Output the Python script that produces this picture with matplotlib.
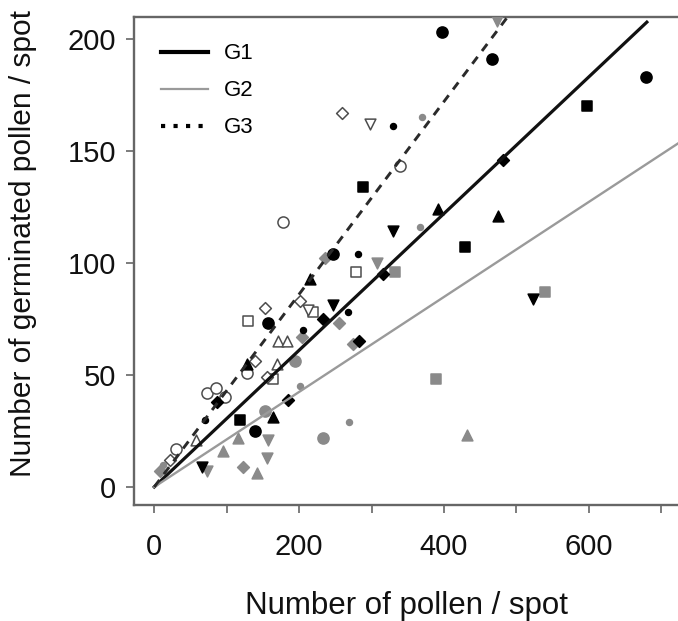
import numpy as np
import matplotlib
matplotlib.use("Agg")
import matplotlib.pyplot as plt
from matplotlib.lines import Line2D

plt.rcParams["font.family"] = ["Liberation Sans", "DejaVu Sans"]

# shape codes: o circle, s square, ^ up, v down, D diamond, . small dot
g1_x = [397, 466, 679, 157, 139, 247,
        288, 597, 429, 119,
        392, 474, 215, 128, 164,
        330, 523, 247, 66,
        482, 316, 283, 233, 185, 87,
        330, 281, 268, 205, 70]
g1_y = [203, 191, 183, 73, 25, 104,
        134, 170, 107, 30,
        124, 121, 93, 55, 31,
        114, 84, 81, 9,
        146, 95, 65, 75, 39, 38,
        161, 104, 78, 70, 30]
g1_shape = ["o"] * 6 + ["s"] * 4 + ["^"] * 5 + ["v"] * 4 + ["D"] * 6 + ["."] * 5

g2_x = [233, 153, 194,
        539, 389, 332,
        432, 142, 116, 95,
        473, 307, 157, 155, 73,
        236, 255, 274, 123, 8, 204,
        370, 269, 367, 201, 12]
g2_y = [22, 34, 56,
        87, 48, 96,
        23, 6, 22, 16,
        208, 100, 21, 13, 7,
        102, 73, 64, 9, 7, 67,
        165, 29, 116, 45, 10]
g2_shape = ["o"] * 3 + ["s"] * 3 + ["^"] * 4 + ["v"] * 5 + ["D"] * 6 + ["."] * 5

g3_x = [178, 339, 128, 73, 85, 98, 30,
        279, 130, 164, 219,
        171, 183, 170, 57,
        298, 212,
        259, 153, 201, 139, 156, 22]
g3_y = [118, 143, 51, 42, 44, 40, 17,
        96, 74, 48, 78,
        65, 65, 55, 21,
        162, 79,
        167, 80, 83, 56, 49, 12]
g3_shape = ["o"] * 7 + ["s"] * 4 + ["^"] * 4 + ["v"] * 2 + ["D"] * 6

# fitted slopes (through origin) and x extent of each line
fit_names = ["G1", "G2", "G3"]
fit_slopes = [0.305, 0.212, 0.43]
fit_xmax = [680, 730, 490]

sizes = {"o": 64, "s": 46, "^": 60, "v": 60, "D": 36, ".": 18}


def draw_group(ax, xs, ys, shapes, face, edge):
    xs = np.array(xs)
    ys = np.array(ys)
    shapes = np.array(shapes)
    for m in ["o", "s", "^", "v", "D", "."]:
        sel = shapes == m
        if not sel.any():
            continue
        ax.scatter(
            xs[sel], ys[sel],
            marker="o" if m == "." else m,
            s=sizes[m],
            facecolor=face,
            edgecolor=edge,
            linewidth=1.1,
            zorder=3
        )


fig = plt.figure(figsize=(6.78, 6.21), dpi=100)
ax = fig.add_axes([0.198, 0.187, 0.802, 0.786])

draw_group(ax, g2_x, g2_y, g2_shape, "#8a8a8a", "#8a8a8a")
draw_group(ax, g3_x, g3_y, g3_shape, "white", "#4d4d4d")
draw_group(ax, g1_x, g1_y, g1_shape, "black", "black")

line_styles = [
    dict(color="#111111", lw=2.3, ls="-"),
    dict(color="#9a9a9a", lw=1.7, ls="-"),
    dict(color="#2a2a2a", lw=2.1, ls=(0, (3, 2.5))),
]
for slope, xmax, st in zip(fit_slopes, fit_xmax, line_styles):
    xx = np.array([0, xmax])
    ax.plot(xx, slope * xx, zorder=4, **st)

ax.set_xlim(-27.6, 723)
ax.set_ylim(-8, 209.8)

ax.set_xticks([0, 200, 400, 600])
ax.set_xticks([100, 300, 500, 700], minor=True)
ax.set_yticks([0, 50, 100, 150, 200])

ax.tick_params(axis="both", which="both", direction="out", length=6,
               width=1.2, color="#666666", labelsize=21, labelcolor="#111111")
ax.tick_params(axis="x", which="both", pad=14)
ax.tick_params(axis="y", pad=7)

for side in ["left", "bottom", "top"]:
    ax.spines[side].set_color("#666666")
    ax.spines[side].set_linewidth(1.7)
ax.spines["right"].set_visible(False)

ax.set_xlabel("Number of pollen / spot", fontsize=22.5, labelpad=22,
              color="#111111")
ax.set_ylabel("Number of germinated pollen / spot", fontsize=21.5,
              color="#111111")
ax.yaxis.set_label_coords(-0.178, 0.535)

handles = [
    Line2D([], [], color="black", lw=3.0),
    Line2D([], [], color="#9a9a9a", lw=1.6),
    Line2D([], [], color="black", lw=3.0, ls=(0, (1, 2))),
]
ax.legend(handles, fit_names, loc="upper left", frameon=False,
          fontsize=16, handlelength=2.1, handletextpad=0.75,
          labelspacing=0.72, borderaxespad=0.8,
          bbox_to_anchor=(0.0, 1.0))

fig.savefig("out.png", dpi=100)
